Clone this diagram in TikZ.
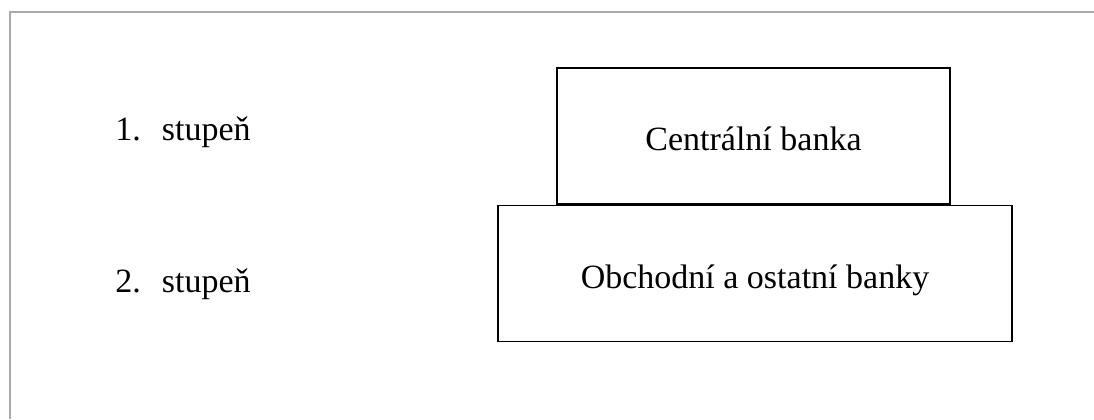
\documentclass[tikz,border=0pt]{standalone}
\usepackage{fontspec}
\setmainfont{Liberation Serif}
\usepackage{tikz}
\usetikzlibrary{positioning}
\definecolor{framegray}{HTML}{AAAAAA}
\tikzset{
		bank box/.style={draw,line width=0.6pt,rectangle,inner sep=0pt,minimum height=68pt,text depth=2pt},
		level text/.style={anchor=base west,inner sep=0pt},
		every node/.style={font=\fontsize{17}{20}\selectfont}
	}

\begin{document}
\begin{tikzpicture}[x=0.5pt,y=-0.5pt]
				\useasboundingbox (0,0) rectangle (1094,419);
				\draw[framegray,line width=0.6pt] (1094,12) -- (10,12) -- (10,419);

				\node[level text] (s1) at (115,140.5) {1.\hspace{10.5pt}stupeň};
				\node[level text] (s2) at (115,292.5) {2.\hspace{10.5pt}stupeň};

				\node[bank box,minimum width=196.5pt,text height=16pt] (cb) at (753.5,136) {Centrální banka};
				\node[bank box,minimum width=257pt,text height=17pt]   (ob) [below=0pt of cb, xshift=0.75pt] {Obchodní a ostatní banky};
			\end{tikzpicture}
\end{document}
